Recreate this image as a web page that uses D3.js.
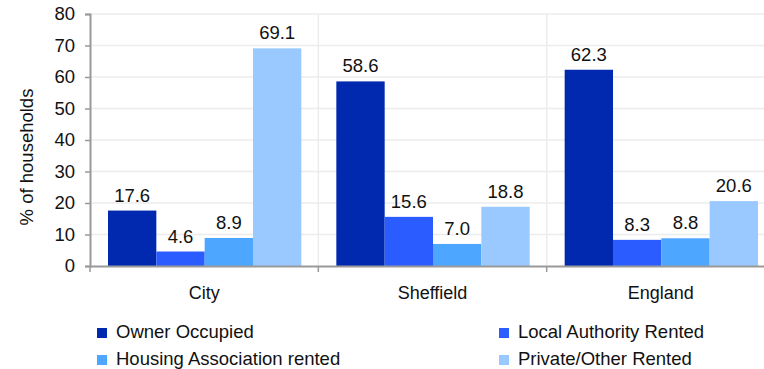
<!DOCTYPE html>
<html>
<head>
<meta charset="utf-8">
<script src="https://cdn.jsdelivr.net/npm/d3@7"></script>
<style>
  body { margin: 0; background: #fff; }
  text { font-family: "Liberation Sans", Arial, sans-serif; fill: #111; }
</style>
</head>
<body>
<script>
const categories = ["City", "Sheffield", "England"];
const seriesNames = ["Owner Occupied", "Local Authority Rented", "Housing Association rented", "Private/Other Rented"];
const ownerOccupied = [17.6, 58.6, 62.3];
const localAuthority = [4.6, 15.6, 8.3];
const housingAssoc = [8.9, 7.0, 8.8];
const privateOther = [69.1, 18.8, 20.6];
const yTicks = [0, 10, 20, 30, 40, 50, 60, 70, 80];
const colors = ["#0029b0", "#2b5cff", "#4da6ff", "#99c9ff"];

const seriesValues = [ownerOccupied, localAuthority, housingAssoc, privateOther];

const width = 764, height = 369;
const mLeft = 90, mRight = 775, mTop = 14, mBottom = 266;
const font = "Liberation Sans, Arial, sans-serif";

const svg = d3.select("body").append("svg")
  .attr("width", width).attr("height", height);

const x = d3.scaleBand().domain(categories).range([mLeft, mRight]).paddingInner(0).paddingOuter(0);
const xs = d3.scaleBand().domain(d3.range(4)).range([18, x.bandwidth() - 17]);
const y = d3.scaleLinear().domain([0, 80]).range([mBottom, mTop]);

// horizontal gridlines
svg.selectAll("line.hgrid")
  .data(yTicks.slice(1))
  .join("line")
  .attr("class", "hgrid")
  .attr("x1", mLeft).attr("x2", mRight)
  .attr("y1", d => y(d)).attr("y2", d => y(d))
  .attr("stroke", "#ececec").attr("stroke-width", 1.5);

// vertical gridlines between categories
svg.selectAll("line.vgrid")
  .data(categories.slice(1))
  .join("line")
  .attr("class", "vgrid")
  .attr("x1", d => x(d)).attr("x2", d => x(d))
  .attr("y1", mTop).attr("y2", mBottom)
  .attr("stroke", "#ececec").attr("stroke-width", 1.5);

// bars
const groups = svg.selectAll("g.grp")
  .data(categories)
  .join("g")
  .attr("class", "grp")
  .attr("transform", d => `translate(${x(d)},0)`);

groups.selectAll("rect")
  .data((c, ci) => seriesValues.map((s, si) => ({ si, v: s[ci] })))
  .join("rect")
  .attr("x", d => xs(d.si))
  .attr("width", xs.bandwidth())
  .attr("y", d => y(d.v))
  .attr("height", d => y(0) - y(d.v))
  .attr("fill", d => colors[d.si]);

groups.selectAll("text.val")
  .data((c, ci) => seriesValues.map((s, si) => ({ si, v: s[ci] })))
  .join("text")
  .attr("class", "val")
  .attr("x", d => xs(d.si) + xs.bandwidth() / 2)
  .attr("y", d => y(d.v) - 9)
  .attr("text-anchor", "middle")
  .attr("font-size", 18.5)
  .text(d => d.v.toFixed(1));

// y axis
const yAxis = svg.append("g")
  .attr("transform", `translate(${mLeft},0)`)
  .call(d3.axisLeft(y).tickValues(yTicks).tickSize(5).tickPadding(10));
yAxis.select(".domain").attr("stroke", "#999").attr("stroke-width", 2);
yAxis.selectAll(".tick line").attr("stroke", "#999").attr("stroke-width", 1.5);
yAxis.selectAll(".tick text").attr("font-size", 18.5).attr("font-family", font).attr("fill", "#111");

// x axis
const xAxis = svg.append("g")
  .attr("transform", `translate(0,${mBottom})`)
  .call(d3.axisBottom(x).tickSize(0).tickPadding(20));
xAxis.select(".domain").attr("stroke", "#999").attr("stroke-width", 2);
xAxis.selectAll(".tick text").attr("font-size", 18).attr("font-family", font).attr("fill", "#111");
svg.selectAll("line.xtick")
  .data(categories)
  .join("line")
  .attr("class", "xtick")
  .attr("x1", d => x(d)).attr("x2", d => x(d))
  .attr("y1", mBottom).attr("y2", mBottom + 6)
  .attr("stroke", "#999").attr("stroke-width", 1.5);

// y title
svg.append("text")
  .attr("transform", "translate(33,157) rotate(-90)")
  .attr("text-anchor", "middle")
  .attr("font-size", 18.5)
  .text("% of households");

// legend
const legPos = [[97, 328], [499, 328], [97, 355], [499, 355]];
const leg = svg.selectAll("g.leg")
  .data(seriesNames)
  .join("g")
  .attr("class", "leg")
  .attr("transform", (d, i) => `translate(${legPos[i][0]},${legPos[i][1]})`);
leg.append("rect")
  .attr("x", 0).attr("y", 0).attr("width", 10).attr("height", 10)
  .attr("fill", (d, i) => colors[i]);
leg.append("text")
  .attr("x", 19).attr("y", 10)
  .attr("font-size", 18.5)
  .text(d => d);
</script>
</body>
</html>
